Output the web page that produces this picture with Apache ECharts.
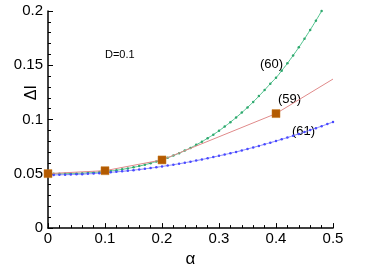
<!DOCTYPE html>
<html><head><meta charset="utf-8">
<script src="https://cdn.jsdelivr.net/npm/echarts@6/dist/echarts.min.js"></script>
<style>html,body{margin:0;padding:0;background:#fff}#c{width:366px;height:273px}</style>
</head><body><div id="c"></div>
<script>
// alpha grid for the dense series
const alphaGreen = [0,0.01,0.02,0.03,0.04,0.05,0.06,0.07,0.08,0.09,0.10,0.11,0.12,0.13,0.14,0.15,0.16,0.17,0.18,0.19,0.20,0.21,0.22,0.23,0.24,0.25,0.26,0.27,0.28,0.29,0.30,0.31,0.32,0.33,0.34,0.35,0.36,0.37,0.38,0.39,0.40,0.41,0.42,0.43,0.44,0.45,0.46,0.47,0.48];
const green60 = [0.0500,0.0500,0.0500,0.0501,0.0502,0.0504,0.0506,0.0509,0.0512,0.0516,0.0521,0.0527,0.0533,0.0541,0.0550,0.0560,0.0571,0.0584,0.0598,0.0613,0.0630,0.0648,0.0668,0.0690,0.0714,0.0739,0.0767,0.0796,0.0828,0.0861,0.0897,0.0935,0.0976,0.1019,0.1064,0.1112,0.1162,0.1216,0.1272,0.1330,0.1385,0.1450,0.1518,0.1590,0.1665,0.1744,0.1826,0.1911,0.1999];
const alphaBlue = [0,0.01,0.02,0.03,0.04,0.05,0.06,0.07,0.08,0.09,0.10,0.11,0.12,0.13,0.14,0.15,0.16,0.17,0.18,0.19,0.20,0.21,0.22,0.23,0.24,0.25,0.26,0.27,0.28,0.29,0.30,0.31,0.32,0.33,0.34,0.35,0.36,0.37,0.38,0.39,0.40,0.41,0.42,0.43,0.44,0.45,0.46,0.47,0.48,0.49,0.50];
const blue61 = [0.0490,0.0490,0.0491,0.0492,0.0493,0.0495,0.0497,0.0500,0.0502,0.0506,0.0510,0.0514,0.0518,0.0523,0.0528,0.0534,0.0540,0.0546,0.0553,0.0560,0.0568,0.0576,0.0584,0.0593,0.0602,0.0612,0.0622,0.0632,0.0643,0.0654,0.0666,0.0677,0.0690,0.0702,0.0715,0.0729,0.0743,0.0757,0.0772,0.0787,0.0802,0.0818,0.0834,0.0851,0.0868,0.0885,0.0903,0.0921,0.0939,0.0958,0.0977];
const alphaRed = [0,0.1,0.2,0.4,0.5];
const red59 = [0.0502,0.0529,0.0628,0.1055,0.1373];
const redMarked = [true,true,true,true,false];
const xTicks = [0,0.1,0.2,0.3,0.4,0.5];
const yTicks = [0,0.05,0.1,0.15,0.2];

const zip = (a,b) => a.map((v,i)=>[v,b[i]]);
const chart = echarts.init(document.getElementById('c'));
const FONT = 'Liberation Sans, Arial, sans-serif';
chart.setOption({
  animation:false,
  grid:{left:48,right:33,top:11,bottom:31},
  xAxis:{type:'value',min:0,max:0.5,interval:0.1,
    name:'α',nameLocation:'middle',nameGap:19,
    nameTextStyle:{color:'#000',fontSize:17,fontFamily:FONT},
    axisLine:{lineStyle:{color:'#000',width:1.5}},
    axisTick:{inside:true,length:5,lineStyle:{color:'#000'}},
    minorTick:{show:true,splitNumber:5,length:3,lineStyle:{color:'#000'}},
    splitLine:{show:false},
    axisLabel:{color:'#000',fontSize:15,fontFamily:FONT,margin:3,
      formatter:v=>{const t=xTicks.find(k=>Math.abs(k-v)<1e-9);return t===undefined?'':String(t);}}},
  yAxis:{type:'value',min:0,max:0.2,interval:0.05,
    axisLine:{show:true,lineStyle:{color:'#000',width:1.5}},
    axisTick:{show:true,inside:true,length:5,lineStyle:{color:'#000'}},
    minorTick:{show:true,splitNumber:5,length:3,lineStyle:{color:'#000'}},
    splitLine:{show:false},
    axisLabel:{color:'#000',fontSize:15,fontFamily:FONT,margin:5,
      formatter:v=>{const t=yTicks.find(k=>Math.abs(k-v)<1e-9);return t===undefined?'':String(t);}}},
  series:[
    {type:'line',data:zip(alphaGreen,green60),smooth:true,symbol:'circle',symbolSize:2.5,
      lineStyle:{color:'#4cc08a',width:1},itemStyle:{color:'#2fa86e'},z:3},
    {type:'line',data:zip(alphaBlue,blue61),smooth:true,symbol:'circle',symbolSize:2.5,
      lineStyle:{color:'#8080ff',width:1},itemStyle:{color:'#4a4aff'},z:3},
    {type:'line',data:zip(alphaRed,red59).map((p,i)=>({value:p,symbol:redMarked[i]?'rect':'none'})),
      symbolSize:8,lineStyle:{color:'#e08a8a',width:1},itemStyle:{color:'#b35a00',borderColor:'#c87a20',borderWidth:0.5},z:4}
  ],
  graphic:[
    {type:'text',left:24,top:85,rotation:Math.PI/2,style:{text:'ΔI',fontSize:16,fontFamily:FONT,fill:'#000'}},
    {type:'text',left:105,top:49,style:{text:'D=0.1',fontSize:11,fontFamily:FONT,fill:'#000'}},
    {type:'text',left:260,top:58,style:{text:'(60)',fontSize:13,fontFamily:FONT,fill:'#000'}},
    {type:'text',left:278,top:93,style:{text:'(59)',fontSize:13,fontFamily:FONT,fill:'#000'}},
    {type:'text',left:292,top:125,style:{text:'(61)',fontSize:13,fontFamily:FONT,fill:'#000'}}
  ]
});
</script></body></html>
